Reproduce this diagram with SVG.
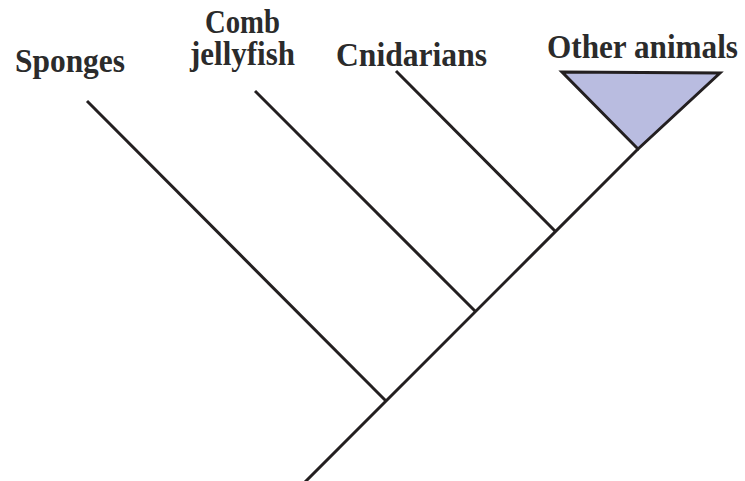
<svg xmlns="http://www.w3.org/2000/svg" width="745" height="481" viewBox="0 0 745 481">
  <style>
    .lbl { font-family: "Liberation Serif", "Times New Roman", serif; font-weight: bold; font-size: 33px; fill: #2b2b2b; }
    .edge { stroke: #231f20; stroke-width: 3; fill: none; stroke-linecap: butt; }
    .clade { fill: #b9bce0; stroke: #231f20; stroke-width: 3; stroke-linejoin: miter; }
  </style>
  <rect width="745" height="481" fill="#ffffff"/>

  <!-- branches -->
  <g id="connectors">
    <line class="edge" x1="305" y1="482" x2="638" y2="149"/>
    <line class="edge" x1="87" y1="101" x2="386" y2="401"/>
    <line class="edge" x1="255" y1="91" x2="475" y2="311"/>
    <line class="edge" x1="396" y1="71" x2="556" y2="232"/>
  </g>

  <g id="sponges">
    <text class="lbl" x="15" y="72" textLength="110" lengthAdjust="spacingAndGlyphs">Sponges</text>
  </g>

  <g id="comb-jellyfish">
    <text class="lbl" x="205" y="33" textLength="75" lengthAdjust="spacingAndGlyphs">Comb</text>
    <text class="lbl" x="190" y="65" textLength="105" lengthAdjust="spacingAndGlyphs">jellyfish</text>
  </g>

  <g id="cnidarians">
    <text class="lbl" x="336" y="66" textLength="151" lengthAdjust="spacingAndGlyphs">Cnidarians</text>
  </g>

  <g id="other-animals">
    <text class="lbl" x="547" y="58" textLength="191" lengthAdjust="spacingAndGlyphs">Other animals</text>
    <polygon class="clade" points="562,72 720,73 638,149"/>
  </g>
</svg>
